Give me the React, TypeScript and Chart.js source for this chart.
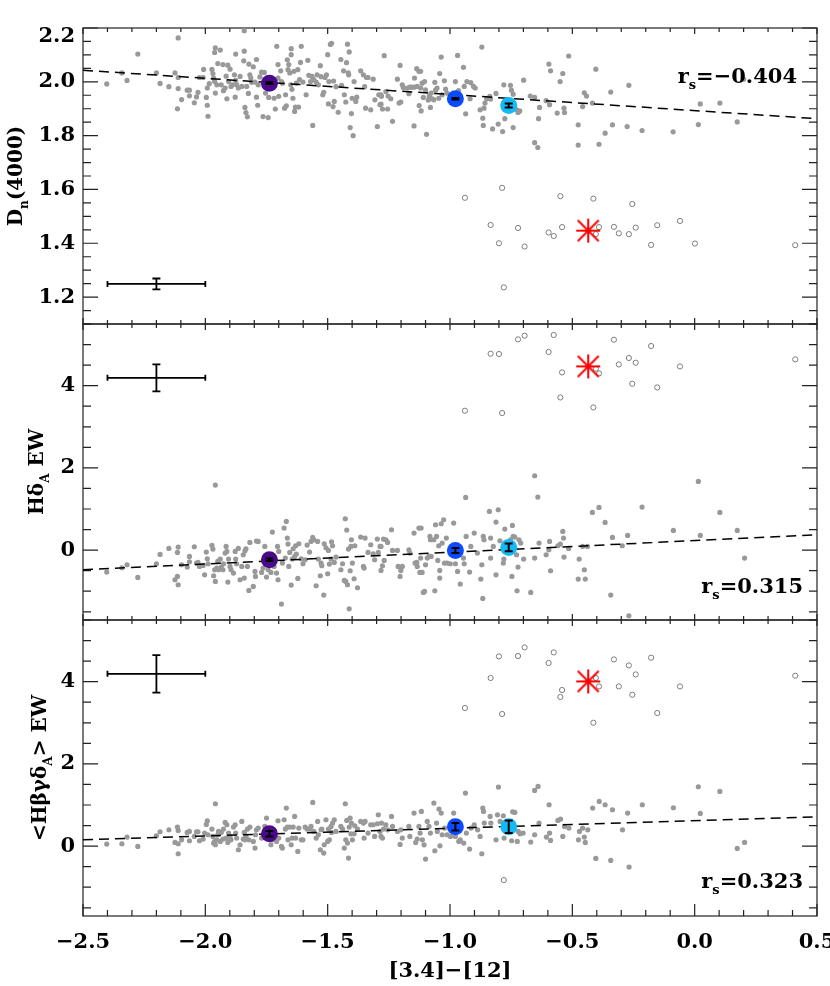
import React, { useEffect, useRef } from 'react';
import { Chart, registerables } from 'chart.js';
Chart.register(...registerables);

type Pt = [number, number];

// ---------------- axes / ticks ----------------
const X_MIN = -2.5;
const X_MAX = 0.5;
const xMajorTicks = [-2.5, -2.0, -1.5, -1.0, -0.5, 0.0, 0.5];
const xMinorStep = 0.1;
const dnMajorTicks = [1.2, 1.4, 1.6, 1.8, 2.0, 2.2];
const ewMajorTicks = [0, 2, 4];

// ---------------- shared values ----------------
const meanX = [-1.738, -0.978, -0.760];
const starX = -0.435;
const fitX = [-2.5, 0.5];
const repX = -2.2;
const repXErr = 0.2;

// ---------------- panel 1: Dn(4000) ----------------
const dnGray: Pt[] = [
  [-2.403,1.992],[-2.341,2.033],[-2.320,2.005],[-2.276,2.103],[-2.200,2.033],[-2.185,1.994],[-2.149,1.982],[-2.124,2.033],
  [-2.111,2.163],[-2.111,2.016],[-2.111,1.975],[-2.114,1.900],[-2.097,1.934],[-2.074,1.969],[-2.065,1.969],[-2.065,1.948],
  [-2.045,1.922],[-2.036,1.944],[-2.030,1.961],[-2.024,2.016],[-2.009,2.016],[-2.007,2.046],[-1.996,1.942],[-1.992,1.913],
  [-1.989,1.872],[-1.992,1.977],[-1.984,1.993],[-1.973,2.046],[-1.969,2.031],[-1.962,2.109],[-1.959,2.126],[-1.966,2.014],
  [-1.962,2.001],[-1.959,1.958],[-1.953,1.989],[-1.949,2.068],[-1.939,2.118],[-1.935,1.989],[-1.928,2.064],[-1.926,1.967],
  [-1.919,1.977],[-1.915,2.021],[-1.912,1.937],[-1.908,2.062],[-1.905,2.001],[-1.899,2.047],[-1.895,1.983],[-1.889,1.989],
  [-1.881,2.026],[-1.878,1.943],[-1.876,2.103],[-1.876,2.005],[-1.872,1.989],[-1.865,1.977],[-1.858,2.020],[-1.851,1.983],
  [-1.843,2.078],[-1.841,2.114],[-1.841,2.190],[-1.838,1.905],[-1.834,1.886],[-1.828,1.870],[-1.831,1.983],[-1.824,1.957],
  [-1.822,2.066],[-1.818,2.026],[-1.814,2.014],[-1.811,1.998],[-1.804,2.056],[-1.797,1.999],[-1.791,2.083],[-1.791,1.943],
  [-1.786,1.913],[-1.784,1.989],[-1.777,2.018],[-1.770,2.036],[-1.764,1.871],[-1.759,2.035],[-1.754,1.958],[-1.743,1.867],
  [-1.741,1.942],[-1.719,1.939],[-1.714,1.899],[-1.708,2.132],[-1.703,2.014],[-1.703,2.064],[-1.700,1.946],[-1.692,2.041],
  [-1.689,2.001],[-1.685,1.995],[-1.676,1.902],[-1.672,1.952],[-1.669,1.911],[-1.665,2.082],[-1.662,2.045],[-1.659,2.064],
  [-1.655,2.033],[-1.651,1.989],[-1.649,2.101],[-1.649,2.123],[-1.646,1.972],[-1.642,1.939],[-1.638,2.039],[-1.635,1.890],
  [-1.632,1.906],[-1.628,1.995],[-1.622,2.045],[-1.619,1.906],[-1.615,2.008],[-1.611,2.072],[-1.608,2.132],[-1.601,1.999],
  [-1.588,1.952],[-1.581,2.080],[-1.577,2.024],[-1.570,2.001],[-1.564,2.020],[-1.561,1.838],[-1.557,2.008],[-1.547,1.999],
  [-1.543,2.026],[-1.538,1.989],[-1.530,2.060],[-1.527,2.019],[-1.520,1.952],[-1.516,1.961],[-1.511,2.016],[-1.505,2.026],
  [-1.500,2.101],[-1.497,1.918],[-1.495,2.001],[-1.489,2.139],[-1.484,2.143],[-1.478,1.908],[-1.476,2.003],[-1.473,1.927],
  [-1.466,1.982],[-1.457,1.887],[-1.446,2.083],[-1.443,1.987],[-1.435,2.041],[-1.432,1.952],[-1.426,1.925],[-1.423,2.071],
  [-1.419,2.140],[-1.416,2.033],[-1.414,2.026],[-1.412,2.111],[-1.408,1.830],[-1.403,1.882],[-1.400,1.939],[-1.396,1.800],
  [-1.392,2.001],[-1.385,1.927],[-1.381,1.943],[-1.365,2.041],[-1.354,2.026],[-1.349,1.982],[-1.345,1.902],[-1.341,2.016],
  [-1.335,2.016],[-1.324,1.896],[-1.314,2.010],[-1.307,1.933],[-1.297,1.834],[-1.291,1.952],[-1.286,1.915],
  [-1.282,1.952],[-1.282,1.917],[-1.276,1.899],[-1.280,1.946],[-1.269,2.097],[-1.262,1.964],[-1.255,1.899],[-1.253,1.947],
  [-1.242,1.937],[-1.235,1.853],[-1.215,2.010],[-1.208,1.921],[-1.204,2.061],[-1.201,1.925],[-1.195,1.989],[-1.191,1.979],
  [-1.174,1.977],[-1.168,1.956],[-1.164,1.980],[-1.158,1.980],[-1.147,1.980],[-1.147,1.836],[-1.145,2.014],[-1.136,2.049],
  [-1.134,1.983],[-1.127,2.039],[-1.126,1.912],[-1.120,1.977],[-1.120,2.039],[-1.118,1.892],[-1.114,1.995],[-1.109,1.942],
  [-1.104,2.001],[-1.100,1.970],[-1.096,1.805],[-1.089,1.932],[-1.085,1.946],[-1.080,1.905],[-1.077,1.958],[-1.073,1.937],
  [-1.066,1.933],[-1.062,1.998],[-1.059,1.969],[-1.053,1.977],[-1.046,1.939],[-1.042,2.031],[-1.036,2.092],[-1.032,1.952],
  [-1.023,2.004],[-1.018,1.973],[-1.012,1.958],[-0.978,2.001],[-0.969,2.098],[-0.965,1.967],[-0.945,2.054],[-0.942,1.983],
  [-0.936,1.881],[-0.931,2.001],[-0.918,1.937],[-0.915,1.997],[-0.904,1.983],[-0.897,1.977],[-0.877,1.896],[-0.870,2.129],
  [-0.866,1.865],[-0.864,1.838],[-0.861,1.902],[-0.857,1.921],[-0.850,1.937],[-0.837,1.946],[-0.834,1.936],[-0.826,1.825],
  [-0.812,1.957],[-0.803,1.843],[-0.785,1.815],[-0.780,1.989],[-0.776,1.863],[-0.753,1.987],[-0.749,1.969],[-0.742,1.954],
  [-0.742,1.830],[-0.728,1.896],[-0.722,1.886],[-0.715,1.892],[-0.699,2.006],[-0.672,1.947],[-0.654,1.942],[-0.654,1.774],
  [-0.641,1.756],[-0.638,1.863],[-0.634,1.905],[-0.607,1.930],[-0.596,2.066],[-0.593,1.915],[-0.589,2.041],[-0.562,1.884],
  [-0.550,2.001],[-0.539,2.031],[-0.534,1.902],[-0.532,1.886],[-0.515,2.096],[-0.476,1.840],[-0.476,1.765],[-0.458,1.908],
  [-0.451,1.959],[-0.442,1.947],[-0.418,1.921],[-0.404,2.047],[-0.391,1.768],[-0.366,1.809],[-0.343,1.962],[-0.336,1.840],
  [-0.276,1.834],[-0.269,1.987],[-0.215,1.819],[-0.088,1.814],[0.015,1.841],[0.023,1.918],[0.103,1.921],[0.174,1.851],
  [0.200,2.010],
];
const dnOpen: Pt[] = [
  [-0.939,1.569],[-0.787,1.606],[-0.834,1.468],[-0.800,1.400],[-0.780,1.236],[-0.722,1.457],[-0.695,1.388],[-0.597,1.440],
  [-0.576,1.427],[-0.542,1.460],[-0.549,1.575],[-0.414,1.566],[-0.404,1.434],[-0.391,1.460],[-0.330,1.461],[-0.310,1.437],
  [-0.269,1.434],[-0.255,1.546],[-0.241,1.458],[-0.178,1.394],[-0.153,1.467],[-0.060,1.483],[0.001,1.399],[0.411,1.393],
];
const dnMeanY = [1.995, 1.937, 1.912];
const dnMeanErr = [0.003, 0.003, 0.007];
const dnStarY = 1.447;
const dnFitY = [2.043, 1.863];
const dnRepY = 1.249;
const dnRepYErr = 0.02;

// ---------------- panel 2: HdeltaA EW ----------------
const hdGray: Pt[] = [
  [-2.403,-0.535],[-2.341,-0.429],[-2.320,-0.356],[-2.276,-0.665],[-2.200,-0.332],[-2.185,-0.105],[-2.149,0.041],[-2.124,-0.721],
  [-2.114,-0.640],[-2.111,-0.843],[-2.114,-0.056],[-2.111,0.073],[-2.097,-0.356],[-2.074,-0.413],[-2.065,-0.154],[-2.065,-0.283],
  [-2.045,0.082],[-2.036,-0.316],[-2.030,-0.300],[-2.024,-0.397],[-2.009,-0.373],[-2.003,-0.600],[-1.996,-0.048],[-1.992,-0.210],
  [-1.989,-0.332],[-1.973,0.114],[-1.969,0.025],[-1.966,-0.624],[-1.962,-0.478],[-1.959,1.582],[-1.959,-0.762],[-1.953,-0.438],
  [-1.949,-0.275],[-1.946,-0.478],[-1.939,-0.219],[-1.935,-0.413],[-1.928,-0.478],[-1.926,-0.332],[-1.919,-0.073],[-1.915,0.090],
  [-1.912,-0.032],[-1.908,-0.778],[-1.905,-0.219],[-1.899,-0.397],[-1.895,-0.478],[-1.885,-0.559],[-1.878,-0.032],[-1.876,-0.219],
  [-1.872,-0.332],[-1.865,0.041],[-1.858,-0.721],[-1.851,-0.397],[-1.845,-0.113],[-1.841,-0.681],[-1.838,-0.016],[-1.834,0.033],
  [-1.828,-0.397],[-1.822,-0.981],[-1.818,0.187],[-1.804,-0.884],[-1.797,-0.519],[-1.795,-0.640],[-1.791,0.219],[-1.784,0.211],
  [-1.770,-0.543],[-1.764,-0.438],[-1.757,0.090],[-1.750,-0.656],[-1.743,-0.478],[-1.732,-0.543],[-1.726,0.438],[-1.719,-0.397],
  [-1.709,-0.559],[-1.705,0.090],[-1.703,-0.721],[-1.700,-0.032],[-1.689,-1.313],[-1.685,-0.316],[-1.678,0.536],[-1.673,-0.194],
  [-1.669,0.698],[-1.665,0.292],[-1.662,0.146],[-1.659,-0.397],[-1.655,-0.056],[-1.649,-0.851],[-1.645,-0.219],[-1.641,0.033],
  [-1.635,-0.154],[-1.631,0.106],[-1.628,-0.097],[-1.622,-0.689],[-1.618,0.155],[-1.608,-0.210],[-1.601,-0.332],[-1.592,-0.235],
  [-1.584,0.122],[-1.574,-0.048],[-1.568,0.211],[-1.561,0.309],[-1.557,0.252],[-1.547,-0.867],[-1.541,0.211],[-1.538,-0.219],
  [-1.530,-0.624],[-1.527,-0.316],[-1.524,-0.381],[-1.516,-1.094],[-1.514,0.155],[-1.507,0.057],[-1.500,-0.575],[-1.497,-0.008],
  [-1.493,-0.340],[-1.486,-0.219],[-1.484,0.203],[-1.480,0.106],[-1.473,-0.300],[-1.466,-0.170],[-1.446,-0.478],[-1.439,-0.332],
  [-1.432,-0.738],[-1.428,0.763],[-1.426,-0.762],[-1.422,0.487],[-1.419,-0.843],[-1.415,0.025],[-1.412,-1.427],[-1.408,-0.502],
  [-1.405,0.090],[-1.403,0.252],[-1.399,-0.316],[-1.392,-0.697],[-1.389,0.106],[-1.378,-0.916],[-1.365,0.317],[-1.354,-0.397],
  [-1.351,-0.438],[-1.347,0.292],[-1.335,-0.056],[-1.324,0.130],[-1.314,-0.089],[-1.308,-0.235],[-1.297,0.268],[-1.293,-0.056],
  [-1.286,0.090],
  [-1.282,0.090],[-1.282,-0.494],[-1.276,-0.381],[-1.272,0.268],[-1.269,-0.251],[-1.262,0.252],[-1.255,0.187],[-1.239,0.495],
  [-1.235,-0.008],[-1.215,-0.008],[-1.212,-0.397],[-1.204,-0.640],[-1.201,-0.494],[-1.195,-0.397],[-1.168,0.009],[-1.164,-0.073],
  [-1.147,0.414],[-1.143,-0.316],[-1.136,-0.300],[-1.134,-0.397],[-1.127,0.536],[-1.123,-0.543],[-1.120,-0.194],[-1.118,0.536],
  [-1.114,-0.543],[-1.109,-1.030],[-1.104,-1.005],[-1.100,-0.356],[-1.093,-0.194],[-1.086,-0.154],[-1.082,0.333],[-1.080,0.252],
  [-1.077,-0.154],[-1.066,0.252],[-1.062,-0.989],[-1.059,0.617],[-1.055,0.333],[-1.050,-0.251],[-1.046,0.106],[-1.042,-0.494],
  [-1.042,-0.681],[-1.036,0.641],[-1.032,0.171],[-1.026,0.739],[-1.023,-0.316],[-1.015,0.292],[-1.012,-0.316],[-0.999,-0.332],
  [-0.985,0.657],[-0.978,-0.332],[-0.969,-0.519],[-0.958,-0.827],[-0.945,-0.194],[-0.942,-0.332],[-0.936,1.282],[-0.934,0.333],
  [-0.920,-0.535],[-0.915,0.090],[-0.901,0.414],[-0.888,-0.073],[-0.874,-0.705],[-0.870,-0.356],[-0.866,-1.176],[-0.864,0.333],
  [-0.861,0.252],[-0.839,0.941],[-0.834,0.292],[-0.834,-0.194],[-0.823,0.090],[-0.812,0.682],[-0.812,-0.600],[-0.803,0.982],
  [-0.796,0.228],[-0.782,-0.316],[-0.780,-0.218],[-0.776,0.511],[-0.753,0.252],[-0.747,-0.640],[-0.745,0.601],[-0.742,0.333],
  [-0.735,0.317],[-0.728,-0.113],[-0.726,-0.989],[-0.722,-0.413],[-0.718,0.252],[-0.711,0.171],[-0.699,-0.218],[-0.670,-1.030],
  [-0.654,1.809],[-0.654,-0.194],[-0.641,1.290],[-0.636,0.171],[-0.607,-0.113],[-0.596,0.009],[-0.593,0.211],[-0.589,-0.502],
  [-0.559,0.106],[-0.549,0.146],[-0.539,0.455],[-0.536,0.292],[-0.534,-0.170],[-0.515,0.041],[-0.476,-0.705],[-0.472,-0.218],
  [-0.458,0.090],[-0.451,-0.478],[-0.447,-0.705],[-0.438,0.090],[-0.418,0.917],[-0.391,1.039],[-0.366,0.674],[-0.343,-1.094],
  [-0.336,0.309],[-0.296,0.106],[-0.274,0.357],[-0.269,-1.597],[-0.215,1.047],
  [-0.087,0.478],[0.015,1.670],[0.023,0.357],[0.103,0.916],[0.174,0.478],[0.204,-0.193],
];
const hdOpen: Pt[] = [
  [-0.939,3.390],[-0.787,3.334],[-0.834,4.777],[-0.800,4.770],[-0.722,5.126],[-0.695,5.215],[-0.597,4.819],[-0.576,5.232],
  [-0.542,4.323],[-0.549,3.714],[-0.414,3.471],[-0.404,4.412],[-0.391,4.298],[-0.330,5.118],[-0.310,4.517],[-0.269,4.673],
  [-0.255,4.047],[-0.241,4.558],[-0.178,4.965],[-0.153,3.957],[-0.060,4.468],[0.411,4.639],
];
const hdMeanY = [-0.235, -0.008, 0.065];
const hdMeanErr = [0.03, 0.06, 0.095];
const hdStarY = 4.468;
const hdFitY = [-0.478, 0.373];
const hdRepY = 4.19;
const hdRepYErr = 0.33;

// ---------------- panel 3: <Hbetagammadelta_A> EW ----------------
const hbGray: Pt[] = [
  [-2.403,0.049],[-2.341,0.057],[-2.320,0.219],[-2.276,-0.008],[-2.200,0.252],[-2.185,0.349],[-2.149,0.398],[-2.124,0.090],
  [-2.114,0.463],[-2.111,0.382],[-2.111,-0.186],[-2.111,0.057],[-2.097,0.154],[-2.074,0.333],[-2.065,0.130],[-2.065,0.357],
  [-2.045,0.236],[-2.036,0.349],[-2.030,0.349],[-2.024,0.130],[-2.009,0.171],[-2.003,0.317],[-1.996,0.528],[-1.992,0.617],
  [-1.989,0.276],[-1.973,0.414],[-1.969,0.236],[-1.966,0.073],[-1.962,0.114],[-1.959,1.030],[-1.959,0.033],[-1.953,0.154],
  [-1.949,0.276],[-1.946,0.357],[-1.939,0.114],[-1.935,0.333],[-1.928,0.171],[-1.926,0.414],[-1.919,0.576],[-1.915,0.195],
  [-1.912,0.519],[-1.908,0.090],[-1.905,0.317],[-1.899,0.236],[-1.895,0.154],[-1.885,0.463],[-1.878,0.519],[-1.876,0.317],
  [-1.872,0.195],[-1.865,-0.089],[-1.858,0.033],[-1.851,0.601],[-1.845,0.171],[-1.841,0.333],[-1.838,0.154],[-1.834,0.236],
  [-1.828,0.414],[-1.822,0.154],[-1.818,0.463],[-1.804,0.114],[-1.797,-0.048],[-1.795,0.276],[-1.791,0.398],[-1.784,0.438],
  [-1.770,0.195],[-1.764,0.236],[-1.757,0.479],[-1.750,0.682],[-1.743,0.398],[-1.732,0.033],[-1.726,0.154],[-1.719,0.382],
  [-1.709,0.114],[-1.703,0.617],[-1.700,0.195],[-1.689,-0.008],[-1.685,-0.048],[-1.678,0.641],[-1.673,0.414],[-1.669,0.925],
  [-1.665,0.463],[-1.662,0.154],[-1.655,0.463],[-1.649,0.033],[-1.645,0.195],[-1.641,0.463],[-1.635,0.722],[-1.631,0.195],
  [-1.622,-0.129],[-1.618,0.438],[-1.608,0.154],[-1.601,0.154],[-1.592,0.463],[-1.584,0.414],[-1.574,0.414],[-1.568,0.479],
  [-1.561,1.063],[-1.557,0.357],[-1.547,0.195],[-1.541,0.601],[-1.538,0.276],[-1.530,-0.089],[-1.527,0.398],[-1.524,0.414],
  [-1.516,-0.170],[-1.514,0.033],[-1.507,0.641],[-1.500,0.114],[-1.497,0.414],[-1.493,0.154],[-1.486,0.479],[-1.484,0.333],
  [-1.480,0.560],[-1.473,0.641],[-1.466,0.357],[-1.446,0.479],[-1.439,0.414],[-1.432,-0.048],[-1.428,1.030],[-1.426,0.154],
  [-1.422,0.625],[-1.419,0.073],[-1.415,-0.292],[-1.412,0.463],[-1.408,0.682],[-1.405,0.300],[-1.403,0.560],[-1.399,0.154],
  [-1.392,0.300],[-1.389,0.495],[-1.378,0.414],[-1.365,0.601],[-1.354,0.560],[-1.351,0.195],[-1.347,0.601],[-1.335,0.317],
  [-1.324,0.519],[-1.314,0.519],[-1.308,0.236],[-1.297,0.544],[-1.293,0.763],[-1.286,0.357],
  [-1.282,0.235],[-1.280,0.560],[-1.276,0.195],[-1.272,0.414],[-1.262,0.519],[-1.255,0.397],[-1.239,0.722],[-1.235,0.479],
  [-1.215,0.357],[-1.204,0.041],[-1.201,0.397],[-1.195,0.195],[-1.168,0.479],[-1.164,0.235],[-1.147,0.803],[-1.140,0.089],
  [-1.134,0.170],[-1.127,0.479],[-1.122,0.316],[-1.117,0.844],[-1.113,0.154],[-1.106,0.032],[-1.100,-0.316],[-1.093,0.600],
  [-1.086,0.479],[-1.080,0.316],[-1.066,1.046],[-1.062,-0.113],[-1.055,0.560],[-1.052,0.357],[-1.045,0.900],[-1.041,0.008],
  [-1.036,0.803],[-1.032,0.276],[-1.022,0.438],[-1.012,0.276],[-0.998,0.235],[-0.985,0.803],[-0.978,0.235],[-0.964,0.114],
  [-0.958,0.154],[-0.944,0.073],[-0.937,1.290],[-0.933,0.316],[-0.920,-0.073],[-0.914,0.438],[-0.901,0.519],[-0.887,0.397],
  [-0.877,0.235],[-0.870,-0.186],[-0.866,0.925],[-0.863,0.844],[-0.860,0.560],[-0.836,0.722],[-0.833,0.560],[-0.812,0.154],
  [-0.806,0.762],[-0.802,1.436],[-0.795,0.600],[-0.782,0.738],[-0.779,0.195],[-0.775,0.479],[-0.748,0.130],[-0.744,0.835],
  [-0.741,0.438],[-0.735,0.819],[-0.725,0.114],[-0.721,0.357],[-0.714,0.300],[-0.701,0.316],[-0.670,0.097],[-0.654,1.354],
  [-0.654,0.276],[-0.640,1.452],[-0.636,0.560],[-0.606,0.219],[-0.595,1.006],[-0.593,0.316],[-0.589,0.138],[-0.559,0.625],
  [-0.548,0.657],[-0.539,0.235],[-0.532,0.479],[-0.514,0.438],[-0.475,0.154],[-0.471,0.357],[-0.458,0.438],[-0.451,0.219],
  [-0.447,0.089],[-0.437,0.397],[-0.417,0.925],[-0.404,-0.300],[-0.390,1.087],[-0.366,1.006],[-0.343,-0.349],[-0.336,0.884],
  [-0.295,0.397],[-0.274,0.803],[-0.268,-0.511],[-0.214,1.006],
  [-0.087,0.933],[0.015,1.444],[0.023,0.794],[0.103,1.330],[0.174,-0.057],[0.204,0.089],
];
const hbOpen: Pt[] = [
  [-0.939,3.359],[-0.787,3.213],[-0.834,4.089],[-0.800,4.615],[-0.722,4.624],[-0.695,4.834],[-0.597,4.454],[-0.576,4.712],
  [-0.542,3.797],[-0.549,3.627],[-0.414,3.001],[-0.404,4.089],[-0.391,3.884],[-0.330,4.541],[-0.310,3.884],[-0.269,4.395],
  [-0.255,3.682],[-0.241,4.176],[-0.178,4.583],[-0.153,3.237],[-0.060,3.884],[0.411,4.145],[-0.780,-0.826],
];
const hbMeanY = [0.30, 0.471, 0.471];
const hbMeanErr = [0.065, 0.09, 0.15];
const hbStarY = 4.006;
const hbFitY = [0.155, 0.714];
const hbRepY = 4.19;
const hbRepYErr = 0.455;

// ---------------- styles ----------------
const FONT = '"DejaVu Serif"';
const meanColors = ['#4b0a8c', '#0a4bff', '#14b9f5'];
const W = 830;
const H = 986;
const PLOT_LEFT = 83;
const PLOT_RIGHT = 823;

type Seg = { t: string; sub?: boolean };

const panels = [
  {
    top: 28, bottom: 324, yMin: 1.1, yMax: 2.2, yMinorStep: 0.05, yMajorStep: 0.2, yMajor: dnMajorTicks, yDec: 1,
    gray: dnGray, open: dnOpen, meanY: dnMeanY, meanErr: dnMeanErr, starY: dnStarY, fitY: dnFitY,
    repY: dnRepY, repYErr: dnRepYErr, showX: false, topLabelShift: 9,
    title: [{ t: 'D' }, { t: 'n', sub: true }, { t: '(4000)' }] as Seg[], titleX: 22,
    rs: [{ t: 'r' }, { t: 's', sub: true }, { t: '=\u22120.404' }] as Seg[], rsX: 797, rsY: 83,
    xTickBottom: [6, 4],
  },
  {
    top: 324, bottom: 620, yMin: -1.7, yMax: 5.5, yMinorStep: 0.5, yMajorStep: 2, yMajor: ewMajorTicks, yDec: 0,
    gray: hdGray, open: hdOpen, meanY: hdMeanY, meanErr: hdMeanErr, starY: hdStarY, fitY: hdFitY,
    repY: hdRepY, repYErr: hdRepYErr, showX: false, topLabelShift: 0,
    title: [{ t: 'H\u03b4' }, { t: 'A', sub: true }, { t: ' EW' }] as Seg[], titleX: 43,
    rs: [{ t: 'r' }, { t: 's', sub: true }, { t: '=0.315' }] as Seg[], rsX: 803, rsY: 593,
    xTickBottom: [6, 4],
  },
  {
    top: 620, bottom: 916, yMin: -1.7, yMax: 5.5, yMinorStep: 0.5, yMajorStep: 2, yMajor: ewMajorTicks, yDec: 0,
    gray: hbGray, open: hbOpen, meanY: hbMeanY, meanErr: hbMeanErr, starY: hbStarY, fitY: hbFitY,
    repY: hbRepY, repYErr: hbRepYErr, showX: true, topLabelShift: 0,
    title: [{ t: '<H\u03b2\u03b3\u03b4' }, { t: 'A', sub: true }, { t: '> EW' }] as Seg[], titleX: 46,
    rs: [{ t: 'r' }, { t: 's', sub: true }, { t: '=0.323' }] as Seg[], rsX: 803, rsY: 888,
    xTickBottom: [12, 6],
  },
];

const fmt = (v: number, d: number) => (v < -1e-9 ? '\u2212' : '') + Math.abs(v).toFixed(d);

function multiples(min: number, max: number, step: number): number[] {
  const out: number[] = [];
  const start = Math.ceil(min / step - 1e-9);
  const end = Math.floor(max / step + 1e-9);
  for (let i = start; i <= end; i++) out.push(+(i * step).toFixed(6));
  return out;
}
const isMult = (v: number, step: number) => Math.abs(v / step - Math.round(v / step)) < 1e-6;

function drawRich(ctx: CanvasRenderingContext2D, segs: Seg[], x: number, y: number, size: number, align: 'center' | 'right', rotate: boolean) {
  const mainF = `bold ${size}px ${FONT}`;
  const subF = `bold ${Math.round(size * 0.62)}px ${FONT}`;
  const widths = segs.map((s) => { ctx.font = s.sub ? subF : mainF; return ctx.measureText(s.t).width; });
  const total = widths.reduce((a, b) => a + b, 0);
  ctx.save();
  ctx.translate(x, y);
  if (rotate) ctx.rotate(-Math.PI / 2);
  ctx.textBaseline = 'alphabetic';
  ctx.textAlign = 'left';
  ctx.fillStyle = '#000';
  let u = align === 'center' ? -total / 2 : -total;
  segs.forEach((s, i) => {
    ctx.font = s.sub ? subF : mainF;
    ctx.fillText(s.t, u, s.sub ? size * 0.28 : 0);
    u += widths[i];
  });
  ctx.restore();
}

function makeStar(): HTMLCanvasElement {
  const c = document.createElement('canvas');
  c.width = 26; c.height = 26;
  const g = c.getContext('2d')!;
  g.strokeStyle = '#ff0000';
  g.lineWidth = 2;
  g.beginPath();
  g.moveTo(1, 13); g.lineTo(25, 13);
  g.moveTo(13, 1); g.lineTo(13, 25);
  g.moveTo(2.5, 2.5); g.lineTo(23.5, 23.5);
  g.moveTo(23.5, 2.5); g.lineTo(2.5, 23.5);
  g.stroke();
  return c;
}

function buildConfig(p: any, star: HTMLCanvasElement): any {
  const tickFont = { family: FONT, size: 21, weight: 'bold' as const };
  const xMinor = multiples(X_MIN, X_MAX, xMinorStep);
  const yMinor = multiples(p.yMin, p.yMax, p.yMinorStep);
  const topVal = p.yMajor[p.yMajor.length - 1];
  const shiftTop = p.topLabelShift > 0 && Math.abs(topVal - p.yMax) < 1e-9;

  const framePlugin = {
    id: 'frameTicks',
    beforeDatasetsDraw(chart: any) {
      const { ctx, chartArea: a, scales } = chart;
      const xs = scales.x, ys = scales.y;
      ctx.save();
      ctx.strokeStyle = '#222';
      ctx.lineWidth = 1.2;
      ctx.beginPath();
      xMinor.forEach((v) => {
        const px = xs.getPixelForValue(v);
        const major = isMult(v, 0.5);
        const lb = major ? p.xTickBottom[0] : p.xTickBottom[1];
        const lt = major ? 6 : 4;
        ctx.moveTo(px, a.bottom); ctx.lineTo(px, a.bottom - lb);
        ctx.moveTo(px, a.top); ctx.lineTo(px, a.top + lt);
      });
      yMinor.forEach((v) => {
        const py = ys.getPixelForValue(v);
        const major = isMult(v, p.yMajorStep);
        const l = major ? 15 : 8;
        ctx.moveTo(a.left, py); ctx.lineTo(a.left + l, py);
        ctx.moveTo(a.right, py); ctx.lineTo(a.right - l, py);
      });
      ctx.stroke();
      ctx.strokeRect(a.left, a.top, a.right - a.left, a.bottom - a.top);
      ctx.restore();
    },
    afterDatasetsDraw(chart: any) {
      const { ctx, scales } = chart;
      const xs = scales.x, ys = scales.y;
      chart.data.datasets.forEach((ds: any) => {
        if (!ds.errs) return;
        ds.data.forEach((pt: any, j: number) => {
          const e = ds.errs[j];
          const cx = xs.getPixelForValue(pt.x);
          const cy = ys.getPixelForValue(pt.y);
          ctx.save();
          ctx.strokeStyle = '#000';
          ctx.lineWidth = ds.errWidth;
          ctx.beginPath();
          if (e.x) {
            const x1 = xs.getPixelForValue(pt.x - e.x), x2 = xs.getPixelForValue(pt.x + e.x);
            ctx.moveTo(x1, cy); ctx.lineTo(x2, cy);
            ctx.moveTo(x1, cy - ds.errCapX); ctx.lineTo(x1, cy + ds.errCapX);
            ctx.moveTo(x2, cy - ds.errCapX); ctx.lineTo(x2, cy + ds.errCapX);
          }
          if (e.y) {
            const y1 = ys.getPixelForValue(pt.y - e.y), y2 = ys.getPixelForValue(pt.y + e.y);
            ctx.moveTo(cx, y1); ctx.lineTo(cx, y2);
            ctx.moveTo(cx - ds.errCap, y1); ctx.lineTo(cx + ds.errCap, y1);
            ctx.moveTo(cx - ds.errCap, y2); ctx.lineTo(cx + ds.errCap, y2);
          }
          ctx.stroke();
          ctx.restore();
        });
      });
    },
    afterDraw(chart: any) {
      const ctx = chart.ctx;
      const a = chart.chartArea;
      const ys = chart.scales.y;
      if (shiftTop) {
        // top tick label nudged inside the frame, as the original plotting package does
        ctx.save();
        ctx.font = `bold 21px ${FONT}`;
        ctx.fillStyle = '#000';
        ctx.textAlign = 'right';
        ctx.textBaseline = 'middle';
        ctx.fillText(fmt(topVal, p.yDec), a.left - 8, ys.getPixelForValue(topVal) + p.topLabelShift);
        ctx.restore();
      }
      drawRich(ctx, p.title, p.titleX, (a.top + a.bottom) / 2, 20, 'center', true);
      drawRich(ctx, p.rs, p.rsX, p.rsY, 21, 'right', false);
      if (p.showX) {
        drawRich(ctx, [{ t: '[3.4]\u2212[12]' }], (a.left + a.right) / 2, 977, 21, 'center', false);
      }
    },
  };

  const xAxisH = 40;
  return {
    type: 'scatter',
    data: {
      datasets: [
        {
          label: 'means', data: meanX.map((x, i) => ({ x, y: p.meanY[i] })),
          pointRadius: 8.5, pointBackgroundColor: meanColors, pointBorderWidth: 0,
          errs: p.meanErr.map((e: number) => ({ y: e })), errCap: 4, errCapX: 0, errWidth: 2, order: 0,
        },
        { label: 'star', data: [{ x: starX, y: p.starY }], pointStyle: star, pointRadius: 12, order: 1 },
        {
          label: 'rep', data: [{ x: repX, y: p.repY }], pointRadius: 0,
          errs: [{ x: repXErr, y: p.repYErr }], errCap: 4, errCapX: 3, errWidth: 1.8, order: 2,
        },
        {
          label: 'fit', data: fitX.map((x, i) => ({ x, y: p.fitY[i] })), showLine: true,
          borderColor: '#000', borderWidth: 1.5, borderDash: [10, 6], pointRadius: 0, order: 3,
        },
        {
          label: 'open', data: p.open.map(([x, y]: Pt) => ({ x, y })), pointRadius: 2.6,
          pointBackgroundColor: 'rgba(0,0,0,0)', pointBorderColor: '#7d7d7d', pointBorderWidth: 1, order: 4,
        },
        {
          label: 'gray', data: p.gray.map(([x, y]: Pt) => ({ x, y })), pointRadius: 2.6,
          pointBackgroundColor: '#999999', pointBorderWidth: 0, order: 5,
        },
      ],
    },
    options: {
      responsive: false,
      maintainAspectRatio: false,
      animation: false,
      devicePixelRatio: 1,
      events: [],
      layout: {
        padding: {
          left: PLOT_LEFT - 60,
          right: W - PLOT_RIGHT,
          top: p.top,
          bottom: p.showX ? H - p.bottom - xAxisH : H - p.bottom,
        },
      },
      plugins: { legend: { display: false }, tooltip: { enabled: false } },
      scales: {
        x: {
          type: 'linear', min: X_MIN, max: X_MAX, display: p.showX,
          grid: { display: false, drawTicks: false }, border: { display: false },
          afterBuildTicks: (s: any) => { s.ticks = xMajorTicks.map((v) => ({ value: v })); },
          afterFit: (s: any) => { if (p.showX) s.height = xAxisH; s.paddingLeft = 0; s.paddingRight = 0; },
          ticks: { autoSkip: false, maxRotation: 0, minRotation: 0, padding: 14, color: '#000', font: tickFont,
            callback: (v: number) => fmt(v, 1) },
        },
        y: {
          type: 'linear', min: p.yMin, max: p.yMax,
          grid: { display: false, drawTicks: false }, border: { display: false },
          afterBuildTicks: (s: any) => { s.ticks = p.yMajor.map((v: number) => ({ value: v })); },
          afterFit: (s: any) => { s.width = 60; s.paddingTop = 0; s.paddingBottom = 0; },
          ticks: { autoSkip: false, padding: 8, color: '#000', font: tickFont,
            callback: (v: number) => (shiftTop && Math.abs(v - topVal) < 1e-9 ? '' : fmt(v, p.yDec)) },
        },
      },
    },
    plugins: [framePlugin],
  };
}

export default function App() {
  const r1 = useRef<HTMLCanvasElement>(null);
  const r2 = useRef<HTMLCanvasElement>(null);
  const r3 = useRef<HTMLCanvasElement>(null);
  useEffect(() => {
    const star = makeStar();
    const refs = [r1, r2, r3];
    const charts = panels.map((p, i) => new Chart(refs[i].current!, buildConfig(p, star)));
    return () => charts.forEach((c) => c.destroy());
  }, []);
  const cs: React.CSSProperties = { position: 'absolute', left: 0, top: 0, width: W, height: H, display: 'block' };
  return (
    <div style={{ position: 'absolute', left: 0, top: 0, width: W, height: H, background: '#fff' }}>
      <canvas ref={r1} width={W} height={H} style={cs} />
      <canvas ref={r2} width={W} height={H} style={cs} />
      <canvas ref={r3} width={W} height={H} style={cs} />
    </div>
  );
}
